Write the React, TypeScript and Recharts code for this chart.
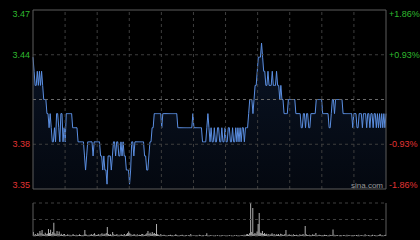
import React from 'react';
import { AreaChart, Area, BarChart, Bar, XAxis, YAxis, ReferenceLine } from 'recharts';

// HK session: 9:30-12:00 (150 min) + 13:00-16:00 (180 min)
const prevClose = 3.41;
const pctTicks = [1.86, 0.93, -0.93, -1.86];
const slots = 11; // 30-minute grid columns

const morningPrices = [
  3.44, 3.43, 3.42, 3.42, 3.43, 3.42, 3.43, 3.42, 3.43, 3.42,
  3.41, 3.41, 3.41, 3.40, 3.40, 3.39, 3.40, 3.39, 3.38, 3.38,
  3.39, 3.38, 3.40, 3.40, 3.39, 3.38, 3.40, 3.40, 3.38, 3.39,
  3.38, 3.40, 3.40, 3.40, 3.40, 3.40, 3.40, 3.39, 3.39, 3.39,
  3.39, 3.39, 3.38, 3.38, 3.38, 3.38, 3.38, 3.38, 3.37, 3.36,
  3.37, 3.38, 3.38, 3.38, 3.38, 3.38, 3.37, 3.38, 3.38, 3.38,
  3.38, 3.38, 3.38, 3.37, 3.37, 3.36, 3.37, 3.36, 3.36, 3.35,
  3.37, 3.37, 3.37, 3.36, 3.37, 3.38, 3.38, 3.37, 3.38, 3.38,
  3.37, 3.37, 3.38, 3.37, 3.38, 3.37, 3.37, 3.36, 3.36, 3.36,
  3.35, 3.36, 3.38, 3.38, 3.37, 3.38, 3.38, 3.38, 3.38, 3.38,
  3.38, 3.38, 3.38, 3.38, 3.37, 3.37, 3.36, 3.36, 3.37, 3.38,
  3.38, 3.39, 3.39, 3.40, 3.40, 3.40, 3.40, 3.40, 3.40, 3.40,
  3.39, 3.40, 3.40, 3.40, 3.40, 3.40, 3.40, 3.40, 3.40, 3.40,
  3.40, 3.40, 3.40, 3.40, 3.40, 3.39, 3.39, 3.39, 3.39, 3.39,
  3.39, 3.39, 3.39, 3.39, 3.39, 3.39, 3.39, 3.39, 3.39, 3.40,
];

const afternoonPrices = [
  3.39, 3.39, 3.39, 3.39, 3.39, 3.39, 3.39, 3.39, 3.38, 3.38,
  3.38, 3.38, 3.39, 3.40, 3.39, 3.38, 3.39, 3.38, 3.38, 3.39,
  3.38, 3.38, 3.39, 3.39, 3.38, 3.38, 3.39, 3.38, 3.38, 3.39,
  3.38, 3.38, 3.39, 3.39, 3.38, 3.38, 3.39, 3.38, 3.38, 3.39,
  3.38, 3.39, 3.38, 3.39, 3.38, 3.39, 3.39, 3.38, 3.39, 3.39,
  3.39, 3.40, 3.41, 3.41, 3.41, 3.40, 3.41, 3.42, 3.42, 3.43,
  3.44, 3.44, 3.44, 3.45, 3.44, 3.43, 3.43, 3.42, 3.42, 3.43,
  3.42, 3.42, 3.42, 3.43, 3.42, 3.42, 3.42, 3.43, 3.42, 3.42,
  3.41, 3.42, 3.41, 3.41, 3.40, 3.40, 3.40, 3.40, 3.41, 3.41,
  3.41, 3.41, 3.41, 3.41, 3.41, 3.40, 3.40, 3.40, 3.40, 3.40,
  3.39, 3.39, 3.40, 3.40, 3.39, 3.40, 3.40, 3.39, 3.39, 3.40,
  3.40, 3.40, 3.40, 3.40, 3.41, 3.41, 3.41, 3.41, 3.41, 3.41,
  3.40, 3.40, 3.40, 3.40, 3.40, 3.40, 3.39, 3.39, 3.40, 3.41,
  3.41, 3.40, 3.41, 3.41, 3.41, 3.41, 3.41, 3.41, 3.41, 3.40,
  3.40, 3.40, 3.40, 3.40, 3.40, 3.40, 3.40, 3.40, 3.39, 3.40,
  3.40, 3.40, 3.39, 3.39, 3.40, 3.40, 3.40, 3.39, 3.40, 3.40,
  3.40, 3.39, 3.40, 3.40, 3.39, 3.40, 3.40, 3.39, 3.40, 3.40,
  3.39, 3.40, 3.39, 3.40, 3.39, 3.40, 3.39, 3.40, 3.39, 3.40,
];

const morningVolumes = [
  12, 4, 6, 3, 9, 5, 15, 8, 18, 6, 4, 10, 5, 7, 21, 9, 19, 6, 12, 40,
  8, 5, 15, 6, 14, 4, 7, 3, 5, 6, 3, 2, 5, 2, 4, 3, 2, 6, 3, 2,
  4, 3, 2, 5, 3, 2, 3, 4, 18, 5, 3, 2, 4, 3, 6, 3, 5, 8, 4, 3,
  4, 6, 3, 5, 8, 4, 7, 5, 9, 27, 6, 4, 5, 3, 12, 5, 3, 4, 6, 3,
  4, 2, 5, 3, 4, 6, 3, 5, 9, 14, 8, 5, 4, 3, 6, 4, 3, 5, 2, 4,
  3, 5, 6, 4, 3, 5, 8, 15, 6, 10, 5, 12, 7, 9, 6, 36, 5, 4, 3, 6,
  3, 2, 4, 3, 2, 1, 3, 2, 4, 2, 3, 1, 2, 5, 3, 2, 1, 3, 2, 4,
  2, 1, 3, 2, 1, 2, 3, 6, 2, 1,
];

const afternoonVolumes = [
  2, 1, 3, 2, 1, 4, 2, 1, 2, 3, 1, 2, 8, 2, 1, 3, 2, 1, 2, 1,
  3, 1, 2, 1, 2, 1, 3, 2, 1, 2, 1, 2, 1, 3, 1, 2, 1, 1, 2, 1,
  3, 1, 2, 1, 2, 3, 2, 4, 3, 5, 6, 4, 8, 100, 12, 85, 6, 9, 7, 14,
  36, 70, 10, 8, 15, 6, 9, 5, 7, 4, 6, 3, 5, 8, 4, 6, 3, 5, 4, 6,
  3, 7, 5, 4, 3, 6, 18, 4, 3, 5, 3, 4, 2, 5, 3, 2, 4, 3, 2, 5,
  3, 4, 6, 3, 30, 5, 3, 2, 4, 3, 2, 5, 3, 4, 9, 3, 2, 4, 3, 2,
  3, 2, 4, 2, 3, 1, 2, 4, 3, 2, 20, 4, 3, 2, 3, 1, 2, 3, 2, 1,
  3, 2, 1, 4, 2, 3, 1, 2, 3, 2, 2, 1, 3, 2, 4, 1, 2, 3, 1, 2,
  5, 2, 1, 3, 2, 1, 2, 4, 1, 3, 2, 1, 2, 3, 6, 2, 3, 1, 2, 4,
];

const prices = [...morningPrices, ...afternoonPrices];
const volumes = [...morningVolumes, ...afternoonVolumes];
const data = prices.map((price, i) => ({ i, price, vol: volumes[i] }));

const last = prices.length - 1;
const hi = prevClose * (1 + pctTicks[0] / 100);
const lo = prevClose * (1 + pctTicks[pctTicks.length - 1] / 100);
const priceTicks = pctTicks.map(p => prevClose * (1 + p / 100));
const slotLines = Array.from({ length: slots - 1 }, (_, k) => ((k + 1) * last) / slots);

const UP = '#2fb82f';
const DOWN = '#e03434';
const GRID = '#3e3e3e';
const BORDER = '#5c5c5c';
const FONT = '"Liberation Sans", Arial, sans-serif';

const PriceTick = (props: any) => {
  const { y, payload } = props;
  const v: number = payload.value;
  const idx = priceTicks.findIndex(t => Math.abs(t - v) < 1e-6);
  const pct = pctTicks[idx];
  const color = pct > 0 ? UP : DOWN;
  const dy = idx === 0 ? 7 : idx === pctTicks.length - 1 ? -1 : 3;
  return (
    <g fontSize={9} fontFamily={FONT} fill={color}>
      <text x={30} y={y + dy} textAnchor="end">{priceTicks[idx].toFixed(2)}</text>
      <text x={389} y={y + dy} textAnchor="start">{(pct > 0 ? '+' : '') + pct.toFixed(2) + '%'}</text>
    </g>
  );
};

export default function App() {
  return (
    <div style={{ position: 'absolute', left: 0, top: 0, width: 420, height: 240, background: '#000', overflow: 'hidden' }}>
      <div style={{ position: 'absolute', left: 0, top: 0 }}>
        <AreaChart width={420} height={200} data={data} margin={{ top: 10, right: 34, bottom: 11, left: 0 }}>
          <defs>
            <linearGradient id="priceFill" x1="0" y1="0" x2="0" y2="1">
              <stop offset="0%" stopColor="#1f3d72" stopOpacity={0.55} />
              <stop offset="100%" stopColor="#0f1e3a" stopOpacity={0.45} />
            </linearGradient>
          </defs>
          <XAxis dataKey="i" type="number" domain={[0, last]} hide />
          <YAxis
            domain={[lo, hi]}
            ticks={priceTicks}
            interval={0}
            width={33}
            axisLine={false}
            tickLine={false}
            tick={<PriceTick />}
          />
          {slotLines.map(x => (
            <ReferenceLine key={'v' + x} x={x} stroke={GRID} strokeDasharray="3 3" />
          ))}
          <ReferenceLine y={priceTicks[1]} stroke={GRID} strokeDasharray="3 3" />
          <ReferenceLine y={priceTicks[2]} stroke={GRID} strokeDasharray="3 3" />
          <ReferenceLine y={prevClose} stroke="#6a6a6a" strokeDasharray="3 3" />
          <Area
            type="linear"
            dataKey="price"
            stroke="#5b8fe2"
            strokeWidth={1}
            fill="url(#priceFill)"
            dot={false}
            activeDot={false}
            isAnimationActive={false}
          />
          <ReferenceLine y={hi} stroke={BORDER} />
          <ReferenceLine y={lo} stroke={BORDER} />
          <ReferenceLine x={0} stroke={BORDER} />
          <ReferenceLine x={last} stroke={BORDER} />
        </AreaChart>
      </div>
      <div style={{ position: 'absolute', left: 351, top: 181, fontSize: 8, fontFamily: FONT, color: '#9a9a9a' }}>sina.com</div>
      <div style={{ position: 'absolute', left: 0, top: 195 }}>
        <BarChart width={420} height={45} data={data} margin={{ top: 8, right: 34, bottom: 4, left: 33 }}>
          <XAxis dataKey="i" type="number" domain={[-0.5, last + 0.5]} hide />
          <YAxis domain={[0, 100]} hide />
          <ReferenceLine y={100} stroke={GRID} strokeDasharray="3 3" />
          <ReferenceLine y={50} stroke={GRID} strokeDasharray="3 3" />
          <ReferenceLine y={0} stroke={GRID} strokeDasharray="3 3" />
          <Bar dataKey="vol" fill="#b0b0b0" barSize={1} isAnimationActive={false} />
          <ReferenceLine x={-0.5} stroke={BORDER} />
          <ReferenceLine x={last + 0.5} stroke={BORDER} />
        </BarChart>
      </div>
    </div>
  );
}
